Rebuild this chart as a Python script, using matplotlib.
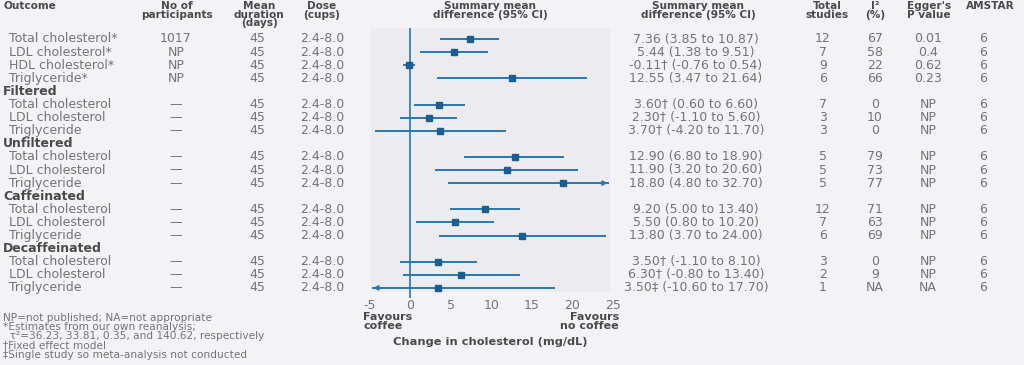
import matplotlib
matplotlib.use("Agg")
import matplotlib.pyplot as plt
import matplotlib.transforms as mtransforms
from matplotlib.patches import Rectangle

# rows of the table, group headers flagged in is_header
labels = ["Total cholesterol*", "LDL cholesterol*", "HDL cholesterol*", "Triglyceride*",
          "Filtered", "Total cholesterol", "LDL cholesterol", "Triglyceride",
          "Unfiltered", "Total cholesterol", "LDL cholesterol", "Triglyceride",
          "Caffeinated", "Total cholesterol", "LDL cholesterol", "Triglyceride",
          "Decaffeinated", "Total cholesterol", "LDL cholesterol", "Triglyceride"]
is_header = [False]*4 + [True, False, False, False]*4
participants = ["1017", "NP", "NP", "NP"] + ["", "—", "—", "—"]*4
duration = ["45"]*4 + ["", "45", "45", "45"]*4
dose = ["2.4-8.0"]*4 + ["", "2.4-8.0", "2.4-8.0", "2.4-8.0"]*4

mean = [7.36, 5.44, -0.11, 12.55, None, 3.60, 2.30, 3.70, None, 12.90, 11.90, 18.80,
        None, 9.20, 5.50, 13.80, None, 3.50, 6.30, 3.50]
lo = [3.85, 1.38, -0.76, 3.47, None, 0.60, -1.10, -4.20, None, 6.80, 3.20, 4.80,
      None, 5.00, 0.80, 3.70, None, -1.10, -0.80, -10.60]
hi = [10.87, 9.51, 0.54, 21.64, None, 6.60, 5.60, 11.70, None, 18.90, 20.60, 32.70,
      None, 13.40, 10.20, 24.00, None, 8.10, 13.40, 17.70]
ci_text = ["7.36 (3.85 to 10.87)", "5.44 (1.38 to 9.51)", "-0.11† (-0.76 to 0.54)",
           "12.55 (3.47 to 21.64)", "",
           "3.60† (0.60 to 6.60)", "2.30† (-1.10 to 5.60)", "3.70† (-4.20 to 11.70)", "",
           "12.90 (6.80 to 18.90)", "11.90 (3.20 to 20.60)", "18.80 (4.80 to 32.70)", "",
           "9.20 (5.00 to 13.40)", "5.50 (0.80 to 10.20)", "13.80 (3.70 to 24.00)", "",
           "3.50† (-1.10 to 8.10)", "6.30† (-0.80 to 13.40)", "3.50‡ (-10.60 to 17.70)"]
studies = ["12", "7", "9", "6", "", "7", "3", "3", "", "5", "5", "5", "", "12", "7", "6",
           "", "3", "2", "1"]
i2 = ["67", "58", "22", "66", "", "0", "10", "0", "", "79", "73", "77", "", "71", "63", "69",
      "", "0", "9", "NA"]
egger = ["0.01", "0.4", "0.62", "0.23", "", "NP", "NP", "NP", "", "NP", "NP", "NP", "",
         "NP", "NP", "NP", "", "NP", "NP", "NA"]
amstar = ["6", "6", "6", "6", "", "6", "6", "6", "", "6", "6", "6", "", "6", "6", "6",
          "", "6", "6", "6"]
xticks = [-5, 0, 5, 10, 15, 20, 25]

footnotes = ["NP=not published; NA=not appropriate",
             "*Estimates from our own reanalysis;",
             "  τ²=36.23, 33.81, 0.35, and 140.62, respectively",
             "†Fixed effect model",
             "‡Single study so meta-analysis not conducted"]

bg = "#f3f3f6"
panel = "#ebebf0"
blue = "#2878ad"
dblue = "#1b5e92"
txt = "#747474"
head = "#4a4a4a"
fs = 9.0

W, H = 1024, 365
fig = plt.figure(figsize=(W/100, H/100), dpi=100, facecolor=bg)

# forest axes, rows at pixel y = 39 + 13.1*i
def py(i):
    return 39 + 13.1*i
top_i, bot_i = -0.84, 19.77
ax = fig.add_axes([369.5/W, 1 - py(bot_i)/H, 243.5/W, (py(bot_i) - py(top_i))/H])
ax.set_xlim(-5, 25)
ax.set_ylim(bot_i, top_i)
ax.set_facecolor("none")
for s in ax.spines.values():
    s.set_visible(False)
ax.add_patch(Rectangle((-4.8, top_i), 29.4, 19.3 - top_i, facecolor=panel,
                       edgecolor="none", zorder=0))
ax.axvline(0, color=blue, lw=1.2, zorder=2)
ax.set_xticks(xticks)
ax.set_xticklabels([str(t) for t in xticks], fontsize=fs, color=txt)
ax.tick_params(axis="x", length=0, pad=1)
ax.set_yticks([])

xmin, xmax = -4.6, 24.4
for i in range(len(labels)):
    if mean[i] is None:
        continue
    a, b = max(lo[i], xmin), min(hi[i], xmax)
    ax.plot([a, b], [i, i], color=blue, lw=1.4, zorder=3)
    if hi[i] > xmax:
        ax.annotate("", xy=(xmax + 0.3, i), xytext=(xmax - 1.2, i),
                    arrowprops=dict(arrowstyle="-|>", color=blue, lw=1.2,
                                    mutation_scale=7), zorder=3)
    if lo[i] < xmin:
        ax.annotate("", xy=(xmin - 0.3, i), xytext=(xmin + 1.2, i),
                    arrowprops=dict(arrowstyle="-|>", color=blue, lw=1.2,
                                    mutation_scale=7), zorder=3)
    ax.plot(mean[i], i, marker="s", ms=4.5, color=dblue, zorder=4)

# text columns: x in figure pixels, y in row units
tr = mtransforms.blended_transform_factory(fig.transFigure, ax.transData)
def col(x, i, s, ha="center", **kw):
    ax.text(x/W, i, s, transform=tr, ha=ha, va="center", fontsize=fs,
            color=kw.pop("color", txt), clip_on=False, **kw)

for i, lab in enumerate(labels):
    if is_header[i]:
        col(3, i, lab, ha="left", color=head, fontweight="bold")
        continue
    col(9, i, lab, ha="left")
    col(176, i, participants[i])
    col(257, i, duration[i])
    col(322, i, dose[i])
    col(696, i, ci_text[i])
    col(823, i, studies[i])
    col(875, i, i2[i])
    col(928, i, egger[i])
    col(983, i, amstar[i])

# column headings
def hdr(x, y, s, ha="center"):
    fig.text(x/W, 1 - y/H, s, ha=ha, va="top", fontsize=7.6, color=head,
             fontweight="bold", linespacing=0.84)
hdr(3, 1, "Outcome", ha="left")
hdr(177, 1, "No of\nparticipants")
hdr(259, 1, "Mean\nduration\n(days)")
hdr(322, 1, "Dose\n(cups)")
hdr(490, 1, "Summary mean\ndifference (95% CI)")
hdr(698, 1, "Summary mean\ndifference (95% CI)")
hdr(827, 1, "Total\nstudies")
hdr(875, 1, "I²\n(%)")
hdr(929, 1, "Egger's\nP value")
hdr(990, 1, "AMSTAR")

# axis annotations
fig.text(363/W, 1 - 312/H, "Favours\ncoffee", ha="left", va="top", fontsize=8.0,
         color=head, fontweight="bold", linespacing=0.82)
fig.text(619/W, 1 - 312/H, "Favours\nno coffee", ha="right", va="top", fontsize=8.0,
         color=head, fontweight="bold", linespacing=0.82)
fig.text(490/W, 1 - 342/H, "Change in cholesterol (mg/dL)", ha="center", va="center",
         fontsize=8.2, color=head, fontweight="bold")

for k, note in enumerate(footnotes):
    fig.text(3/W, 1 - (318 + 9.2*k)/H, note, ha="left", va="center", fontsize=7.6,
             color=txt)

fig.savefig("out.png", dpi=100, facecolor=bg)
